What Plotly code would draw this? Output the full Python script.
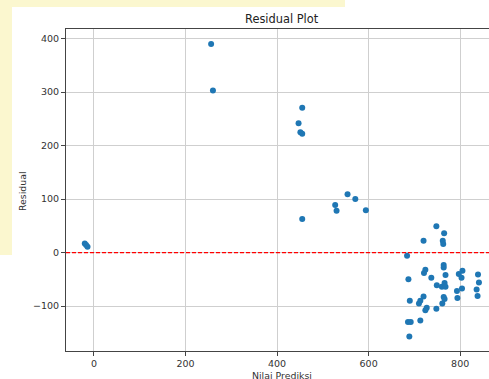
import plotly.graph_objects as go

# Data (predicted value, residual)
pred = [-20, -17, -14, 256, 260, 455, 447, 451, 455,
        455, 527, 530, 554, 571, 594,
        748, 765, 720, 762, 763, 684, 764, 764, 724, 721, 768, 737, 687,
        797, 805, 803, 839, 749, 760, 766, 768, 804, 841, 836, 793, 838,
        794, 720, 764, 766, 690, 710, 713, 761, 727, 724, 748, 686, 692,
        713, 689]
resid = [17, 14, 11, 390, 303, 271, 242, 225, 222,
         63, 89, 78, 109, 100, 79,
         49, 36, 22, 22, 16, -6, -23, -28, -32, -38, -42, -47, -50,
         -40, -34, -47, -41, -61, -64, -57, -64, -67, -56, -69, -72, -81,
         -85, -82, -83, -87, -90, -95, -90, -95, -103, -108, -105, -130, -130,
         -127, -157]

x_ticks = [0, 200, 400, 600, 800]
y_ticks = [-100, 0, 100, 200, 300, 400]

W, H = 489, 379
ML, MT, MB = 66, 29, 28
PW, PH = W - ML, H - MT - MB


def px(x):
    return (x - ML) / PW


def py(y):
    return (H - MB - y) / PH


fig = go.Figure()
fig.add_trace(go.Scatter(
    x=pred, y=resid, mode="markers",
    marker=dict(color="#1f77b4", size=6, line=dict(width=0)),
    showlegend=False, hoverinfo="skip"))

axis_common = dict(
    showgrid=True, gridcolor="#cfcfcf", gridwidth=1,
    zeroline=False, ticks="outside", ticklen=4, tickwidth=1,
    tickcolor="#444", showline=True, linecolor="#444", linewidth=1,
    tickfont=dict(family="DejaVu Sans", size=9.5, color="#333"),
)

fig.update_xaxes(range=[-61, 863], tickvals=x_ticks, mirror=True, **axis_common)
fig.update_yaxes(range=[-184, 418], tickvals=y_ticks, mirror=False, **axis_common)

shapes = [
    # background watermark strips
    dict(type="rect", xref="paper", yref="paper", x0=px(0), x1=px(12),
         y0=py(255), y1=py(0), fillcolor="#fbf7cf", line=dict(width=0), layer="above"),
    dict(type="rect", xref="paper", yref="paper", x0=px(0), x1=px(345),
         y0=py(7), y1=py(-2), fillcolor="#fbf7cf", line=dict(width=0), layer="above"),
    # zero reference line
    dict(type="line", xref="x domain", yref="y", x0=0, x1=1, y0=0, y1=0,
         line=dict(color="red", width=1.3, dash="4px,2px")),
]

annotations = [
    dict(text="Residual Plot", xref="paper", yref="paper", x=px(282), y=py(19),
         xanchor="center", yanchor="middle", showarrow=False,
         font=dict(family="DejaVu Sans", size=11.4, color="#222")),
    dict(text="Nilai Prediksi", xref="paper", yref="paper", x=px(282), y=py(368),
         xanchor="center", yanchor="top", showarrow=False,
         font=dict(family="DejaVu Sans", size=9.4, color="#333")),
    dict(text="Residual", xref="paper", yref="paper", x=px(23), y=py(191),
         xanchor="center", yanchor="middle", showarrow=False, textangle=-90,
         font=dict(family="DejaVu Sans", size=9.4, color="#333")),
]

fig.update_layout(
    width=W, height=H,
    margin=dict(l=ML, r=0, t=MT, b=MB, pad=0),
    paper_bgcolor="white", plot_bgcolor="white",
    shapes=shapes, annotations=annotations,
    showlegend=False,
)

fig.write_html(
    "out.html",
    config={"displayModeBar": False},
    post_script="document.body.style.margin='0';document.body.style.overflow='hidden';",
)
